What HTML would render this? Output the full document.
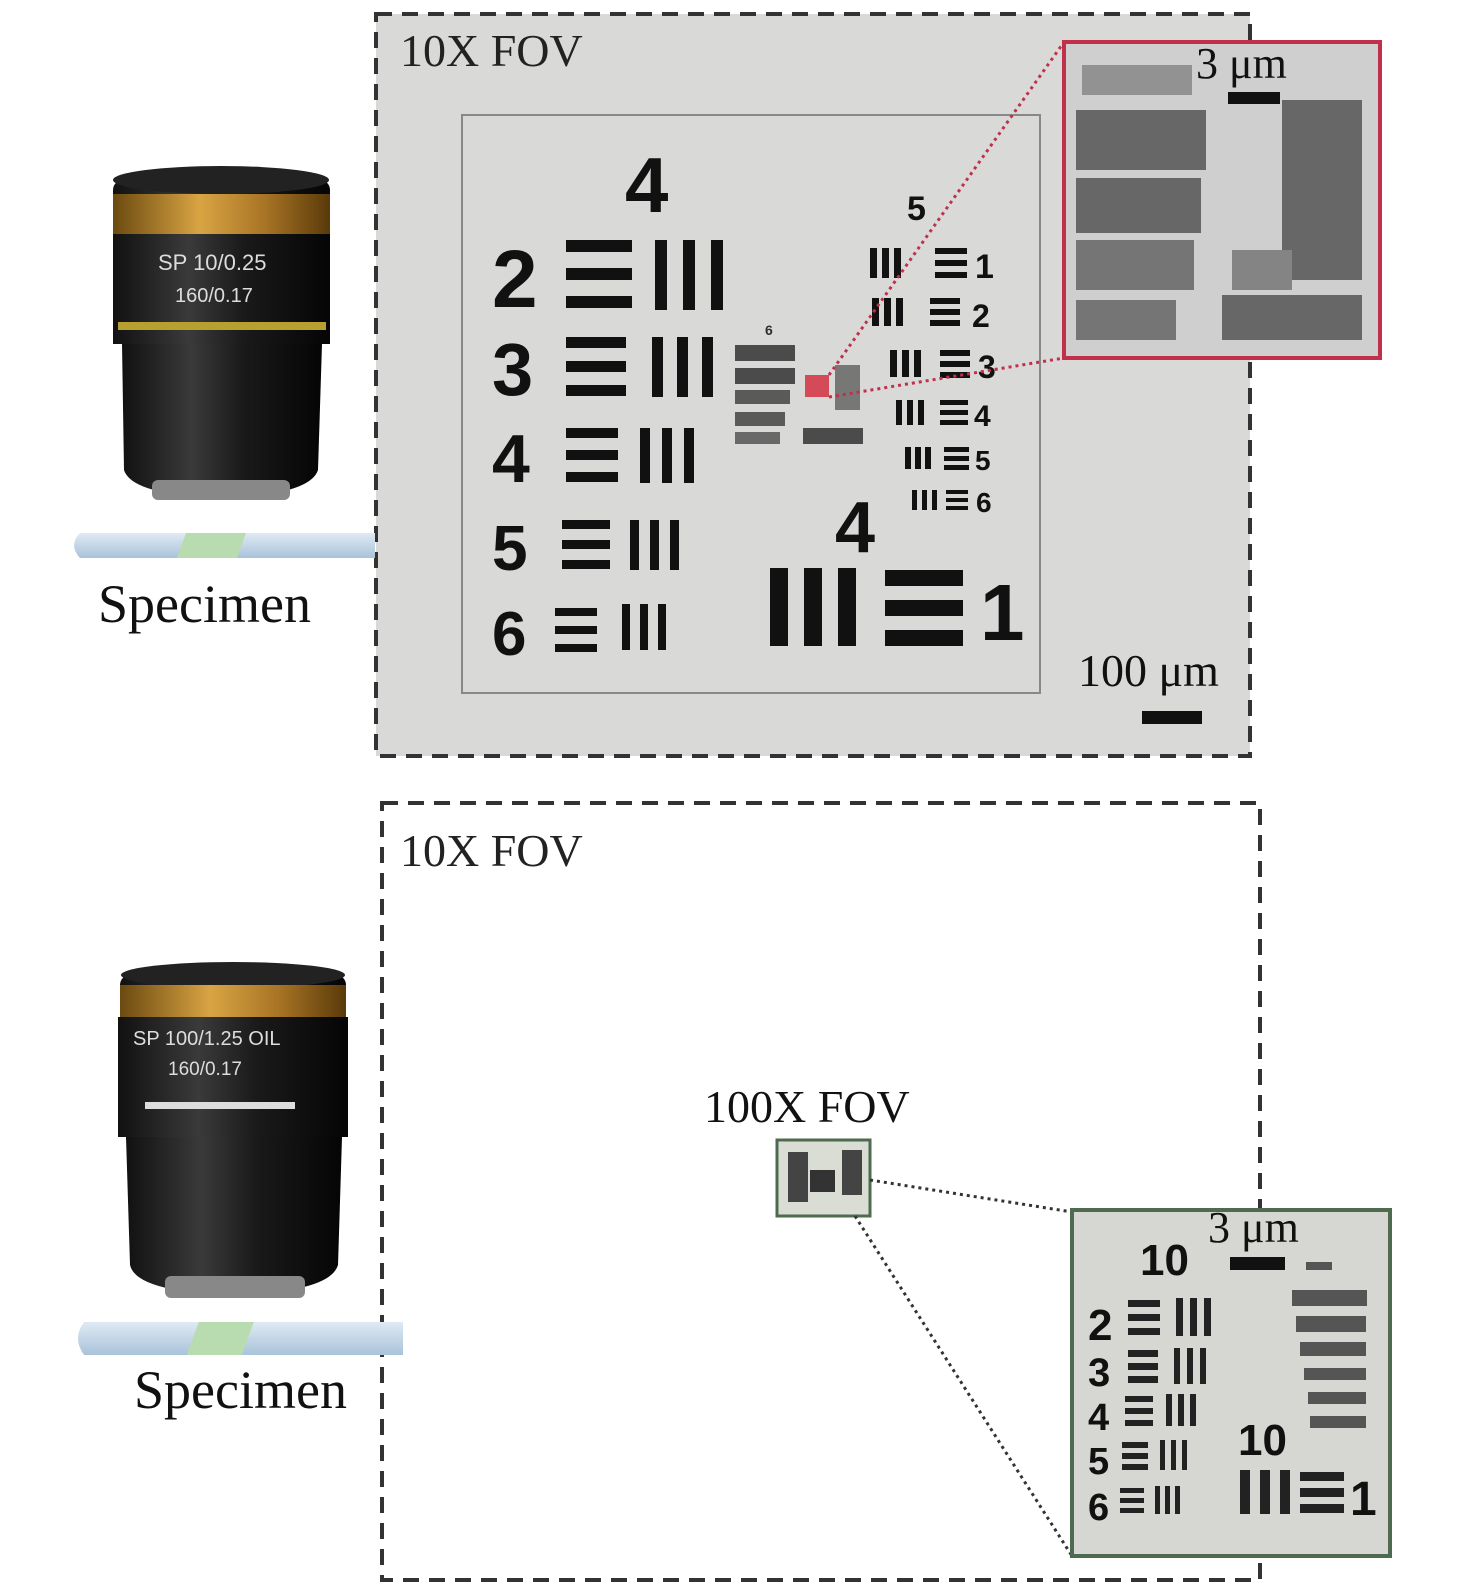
<!DOCTYPE html>
<html><head><meta charset="utf-8"><style>
body{margin:0;background:#fff;}
svg{display:block}
text{font-family:"Liberation Serif",serif;}
.b{font-family:"Liberation Sans",sans-serif;font-weight:bold;fill:#111}
.s{font-family:"Liberation Sans",sans-serif;}
</style></head><body>
<svg width="1476" height="1589" viewBox="0 0 1476 1589" xmlns="http://www.w3.org/2000/svg">
<defs>
<linearGradient id="obj" x1="0" x2="1">
<stop offset="0" stop-color="#111"/><stop offset="0.35" stop-color="#3a3a3a"/><stop offset="0.6" stop-color="#1a1a1a"/><stop offset="1" stop-color="#050505"/></linearGradient>
<linearGradient id="gold" x1="0" x2="1">
<stop offset="0" stop-color="#6b4a10"/><stop offset="0.4" stop-color="#d9a443"/><stop offset="0.7" stop-color="#a87425"/><stop offset="1" stop-color="#5a3a0a"/></linearGradient>
<linearGradient id="slide" x1="0" x2="0" y1="0" y2="1">
<stop offset="0" stop-color="#dfeaf4"/><stop offset="1" stop-color="#a9c3d9"/></linearGradient>
</defs>

<!-- TOP PANEL -->
<rect x="376" y="14" width="874" height="742" fill="#d9d9d7"/>
<rect x="376" y="14" width="874" height="742" fill="none" stroke="#333" stroke-width="4" stroke-dasharray="16,10"/>
<rect x="462" y="115" width="578" height="578" fill="none" stroke="#888" stroke-width="2"/>
<text x="400" y="66" font-size="46" fill="#222">10X FOV</text>

<text class="b" x="625" y="212" font-size="78">4</text>
<g fill="#111">
<text class="b" x="492" y="307" font-size="82">2</text>
<rect x="566" y="240" width="66" height="12"/><rect x="566" y="268" width="66" height="12"/><rect x="566" y="296" width="66" height="12"/>
<rect x="655" y="240" width="12" height="70"/><rect x="683" y="240" width="12" height="70"/><rect x="711" y="240" width="12" height="70"/>
<text class="b" x="492" y="395" font-size="74">3</text>
<rect x="566" y="337" width="60" height="11"/><rect x="566" y="361" width="60" height="11"/><rect x="566" y="385" width="60" height="11"/>
<rect x="652" y="337" width="11" height="60"/><rect x="677" y="337" width="11" height="60"/><rect x="702" y="337" width="11" height="60"/>
<text class="b" x="492" y="482" font-size="68">4</text>
<rect x="566" y="428" width="52" height="10"/><rect x="566" y="450" width="52" height="10"/><rect x="566" y="472" width="52" height="10"/>
<rect x="640" y="428" width="10" height="55"/><rect x="662" y="428" width="10" height="55"/><rect x="684" y="428" width="10" height="55"/>
<text class="b" x="492" y="570" font-size="64">5</text>
<rect x="562" y="520" width="48" height="9"/><rect x="562" y="540" width="48" height="9"/><rect x="562" y="560" width="48" height="9"/>
<rect x="630" y="520" width="9" height="50"/><rect x="650" y="520" width="9" height="50"/><rect x="670" y="520" width="9" height="50"/>
<text class="b" x="492" y="655" font-size="62">6</text>
<rect x="555" y="608" width="42" height="8"/><rect x="555" y="626" width="42" height="8"/><rect x="555" y="644" width="42" height="8"/>
<rect x="622" y="604" width="8" height="46"/><rect x="640" y="604" width="8" height="46"/><rect x="658" y="604" width="8" height="46"/>

<text class="b" x="907" y="220" font-size="34">5</text>
<g>
<rect x="870" y="248" width="7" height="30"/><rect x="882" y="248" width="7" height="30"/><rect x="894" y="248" width="7" height="30"/>
<rect x="935" y="248" width="32" height="6"/><rect x="935" y="260" width="32" height="6"/><rect x="935" y="272" width="32" height="6"/>
<text class="b" x="975" y="278" font-size="34">1</text>
<rect x="872" y="298" width="7" height="28"/><rect x="884" y="298" width="7" height="28"/><rect x="896" y="298" width="7" height="28"/>
<rect x="930" y="298" width="30" height="6"/><rect x="930" y="309" width="30" height="6"/><rect x="930" y="320" width="30" height="6"/>
<text class="b" x="972" y="327" font-size="32">2</text>
<rect x="890" y="350" width="7" height="27"/><rect x="902" y="350" width="7" height="27"/><rect x="914" y="350" width="7" height="27"/>
<rect x="940" y="350" width="30" height="6"/><rect x="940" y="361" width="30" height="6"/><rect x="940" y="372" width="30" height="6"/>
<text class="b" x="978" y="378" font-size="32">3</text>
<rect x="896" y="400" width="6" height="25"/><rect x="907" y="400" width="6" height="25"/><rect x="918" y="400" width="6" height="25"/>
<rect x="940" y="400" width="28" height="5"/><rect x="940" y="410" width="28" height="5"/><rect x="940" y="420" width="28" height="5"/>
<text class="b" x="974" y="426" font-size="30">4</text>
<rect x="905" y="447" width="6" height="22"/><rect x="915" y="447" width="6" height="22"/><rect x="925" y="447" width="6" height="22"/>
<rect x="944" y="447" width="25" height="5"/><rect x="944" y="456" width="25" height="5"/><rect x="944" y="465" width="25" height="5"/>
<text class="b" x="975" y="470" font-size="28">5</text>
<rect x="912" y="490" width="5" height="20"/><rect x="922" y="490" width="5" height="20"/><rect x="932" y="490" width="5" height="20"/>
<rect x="946" y="490" width="22" height="4"/><rect x="946" y="498" width="22" height="4"/><rect x="946" y="506" width="22" height="4"/>
<text class="b" x="976" y="512" font-size="28">6</text>
</g>
<text class="b" x="835" y="552" font-size="72">4</text>
<rect x="770" y="568" width="18" height="78"/><rect x="804" y="568" width="18" height="78"/><rect x="838" y="568" width="18" height="78"/>
<rect x="885" y="570" width="78" height="16"/><rect x="885" y="600" width="78" height="16"/><rect x="885" y="630" width="78" height="16"/>
<text class="b" x="980" y="640" font-size="80">1</text>

<g opacity="0.85">
<text class="b" x="765" y="335" font-size="14">6</text>
<rect x="735" y="345" width="60" height="16" fill="#333"/>
<rect x="735" y="368" width="60" height="16" fill="#333"/>
<rect x="735" y="390" width="55" height="14" fill="#444"/>
<rect x="735" y="412" width="50" height="14" fill="#444"/>
<rect x="735" y="432" width="45" height="12" fill="#555"/>
<rect x="835" y="365" width="25" height="45" fill="#666"/>
<rect x="803" y="428" width="60" height="16" fill="#333"/>
</g>
</g>
<rect x="805" y="375" width="24" height="22" fill="#d43a4a" opacity="0.9"/>
<line x1="829" y1="375" x2="1064" y2="42" stroke="#c0304a" stroke-width="3" stroke-dasharray="3,4"/>
<line x1="829" y1="397" x2="1064" y2="358" stroke="#c0304a" stroke-width="3" stroke-dasharray="3,4"/>
<rect x="1064" y="42" width="316" height="316" fill="#cfcfcf" stroke="#c0304a" stroke-width="4"/>
<g fill="#555" opacity="0.85">
<rect x="1082" y="65" width="110" height="30" fill="#888"/>
<rect x="1076" y="110" width="130" height="60"/>
<rect x="1076" y="178" width="125" height="55"/>
<rect x="1076" y="240" width="118" height="50" fill="#666"/>
<rect x="1076" y="300" width="100" height="40" fill="#666"/>
<rect x="1282" y="100" width="80" height="180"/>
<rect x="1232" y="250" width="60" height="40" fill="#777"/>
<rect x="1222" y="295" width="140" height="45"/>
</g>
<rect x="1228" y="92" width="52" height="12" fill="#111"/>
<text x="1196" y="78" font-size="44" fill="#111">3 μm</text>
<text x="1078" y="686" font-size="46" fill="#111">100 μm</text>
<rect x="1142" y="711" width="60" height="13" fill="#111"/>

<g>
<rect x="113" y="180" width="217" height="60" rx="10" fill="url(#obj)"/>
<ellipse cx="221" cy="180" rx="108" ry="14" fill="#222"/>
<rect x="113" y="194" width="217" height="40" fill="url(#gold)"/>
<rect x="113" y="234" width="217" height="110" fill="url(#obj)"/>
<rect x="118" y="322" width="208" height="8" fill="#b8a030"/>
<path d="M122 344 L322 344 L318 470 Q310 495 221 498 Q132 495 124 470 Z" fill="url(#obj)"/>
<rect x="152" y="480" width="138" height="20" rx="6" fill="#888"/>
<text class="s" x="158" y="270" font-size="22" fill="#ddd">SP 10/0.25</text>
<text class="s" x="175" y="302" font-size="20" fill="#ddd">160/0.17</text>
</g>
<path d="M80 533 L375 533 L375 558 L80 558 Q68 545 80 533 Z" fill="url(#slide)"/>
<rect x="190" y="533" width="60" height="25" fill="#b8dcb0" transform="skewX(-20) translate(190 0)"/>
<text x="98" y="622" font-size="54" fill="#111">Specimen</text>

<!-- BOTTOM PANEL -->
<rect x="382" y="803" width="878" height="777" fill="none" stroke="#333" stroke-width="4" stroke-dasharray="16,10"/>
<text x="400" y="866" font-size="46" fill="#222">10X FOV</text>
<text x="704" y="1122" font-size="46" fill="#111">100X FOV</text>
<rect x="777" y="1140" width="93" height="76" fill="#d9ddd4" stroke="#4f6b4f" stroke-width="3"/>
<g fill="#444"><rect x="788" y="1152" width="20" height="50"/><rect x="810" y="1170" width="25" height="22" fill="#333"/><rect x="842" y="1150" width="20" height="45"/></g>
<line x1="870" y1="1180" x2="1072" y2="1212" stroke="#333" stroke-width="3" stroke-dasharray="3,4"/>
<line x1="855" y1="1216" x2="1072" y2="1556" stroke="#333" stroke-width="3" stroke-dasharray="3,4"/>
<rect x="1072" y="1210" width="318" height="346" fill="#d6d6d2" stroke="#4f6b4f" stroke-width="4"/>
<g fill="#222">
<text class="b" x="1140" y="1275" font-size="44">10</text>
<text class="b" x="1088" y="1340" font-size="44">2</text>
<rect x="1128" y="1300" width="32" height="7"/><rect x="1128" y="1314" width="32" height="7"/><rect x="1128" y="1328" width="32" height="7"/>
<rect x="1176" y="1298" width="7" height="38"/><rect x="1190" y="1298" width="7" height="38"/><rect x="1204" y="1298" width="7" height="38"/>
<text class="b" x="1088" y="1386" font-size="40">3</text>
<rect x="1128" y="1350" width="30" height="7"/><rect x="1128" y="1363" width="30" height="7"/><rect x="1128" y="1376" width="30" height="7"/>
<rect x="1174" y="1348" width="6" height="36"/><rect x="1187" y="1348" width="6" height="36"/><rect x="1200" y="1348" width="6" height="36"/>
<text class="b" x="1088" y="1430" font-size="38">4</text>
<rect x="1125" y="1396" width="28" height="6"/><rect x="1125" y="1408" width="28" height="6"/><rect x="1125" y="1420" width="28" height="6"/>
<rect x="1166" y="1394" width="6" height="32"/><rect x="1178" y="1394" width="6" height="32"/><rect x="1190" y="1394" width="6" height="32"/>
<text class="b" x="1088" y="1474" font-size="38">5</text>
<rect x="1122" y="1442" width="26" height="6"/><rect x="1122" y="1453" width="26" height="6"/><rect x="1122" y="1464" width="26" height="6"/>
<rect x="1160" y="1440" width="5" height="30"/><rect x="1171" y="1440" width="5" height="30"/><rect x="1182" y="1440" width="5" height="30"/>
<text class="b" x="1088" y="1520" font-size="38">6</text>
<rect x="1120" y="1488" width="24" height="5"/><rect x="1120" y="1498" width="24" height="5"/><rect x="1120" y="1508" width="24" height="5"/>
<rect x="1155" y="1486" width="5" height="28"/><rect x="1165" y="1486" width="5" height="28"/><rect x="1175" y="1486" width="5" height="28"/>
<text class="b" x="1238" y="1455" font-size="44">10</text>
<rect x="1240" y="1470" width="10" height="44"/><rect x="1260" y="1470" width="10" height="44"/><rect x="1280" y="1470" width="10" height="44"/>
<rect x="1300" y="1472" width="44" height="9"/><rect x="1300" y="1488" width="44" height="9"/><rect x="1300" y="1504" width="44" height="9"/>
<text class="b" x="1350" y="1515" font-size="48">1</text>
</g>
<g fill="#555">
<rect x="1292" y="1290" width="75" height="16"/><rect x="1296" y="1316" width="70" height="16"/><rect x="1300" y="1342" width="66" height="14"/><rect x="1304" y="1368" width="62" height="12"/><rect x="1308" y="1392" width="58" height="12"/><rect x="1310" y="1416" width="56" height="12"/>
<rect x="1306" y="1262" width="26" height="8"/>
</g>
<rect x="1230" y="1257" width="55" height="13" fill="#111"/>
<text x="1208" y="1242" font-size="44" fill="#111">3 μm</text>

<g>
<rect x="120" y="975" width="226" height="55" rx="10" fill="url(#obj)"/>
<ellipse cx="233" cy="975" rx="112" ry="13" fill="#222"/>
<rect x="120" y="985" width="226" height="32" fill="url(#gold)"/>
<rect x="118" y="1017" width="230" height="120" fill="url(#obj)"/>
<rect x="145" y="1102" width="150" height="7" fill="#ddd"/>
<path d="M126 1137 L342 1137 L338 1265 Q330 1292 233 1295 Q136 1292 130 1265 Z" fill="url(#obj)"/>
<rect x="165" y="1276" width="140" height="22" rx="6" fill="#888"/>
<text class="s" x="133" y="1045" font-size="20" fill="#ddd">SP 100/1.25 OIL</text>
<text class="s" x="168" y="1075" font-size="19" fill="#ddd">160/0.17</text>
</g>
<path d="M84 1322 L403 1322 L403 1355 L84 1355 Q72 1338 84 1322 Z" fill="url(#slide)"/>
<rect x="195" y="1322" width="55" height="33" fill="#b8dcb0" transform="skewX(-20) translate(485 0)"/>
<text x="134" y="1408" font-size="54" fill="#111">Specimen</text>
</svg>
</body></html>
